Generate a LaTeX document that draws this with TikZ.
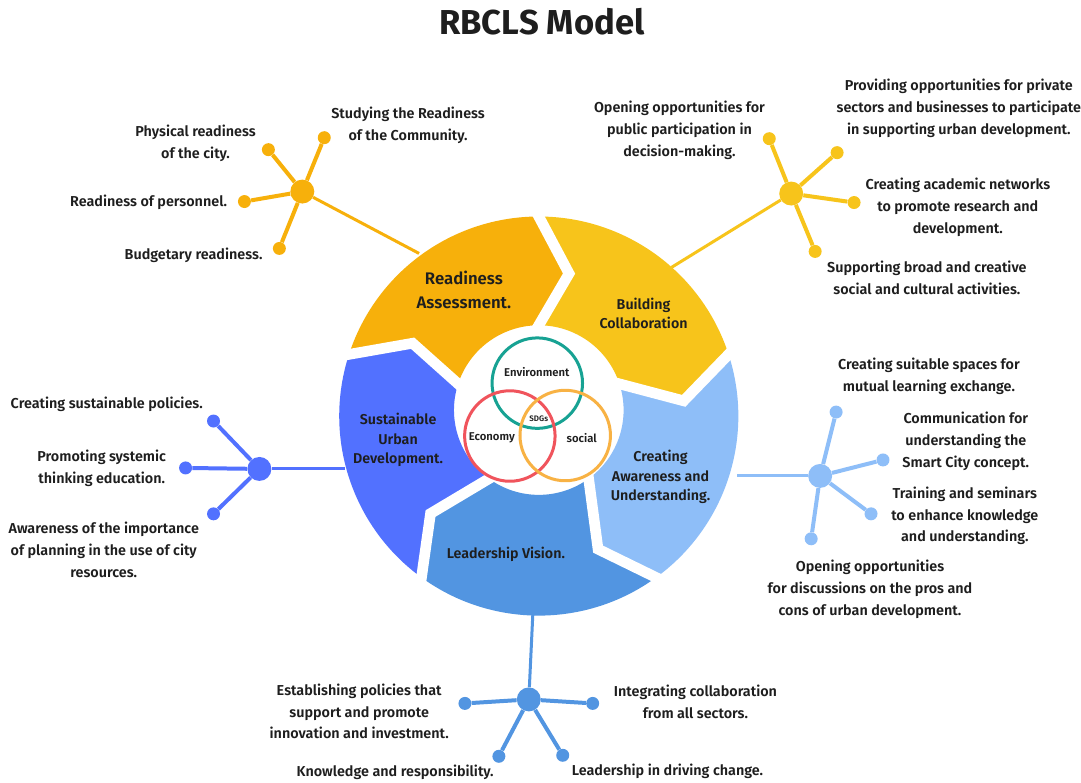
\documentclass[tikz,border=0pt]{standalone}
\usepackage{fontspec}
\setmainfont{Fira Sans}[UprightFont=* SemiBold,BoldFont=* Bold]
\usepackage{tikz}
\usetikzlibrary{calc}

\definecolor{rdyamber}{RGB}{247,176,11}
\definecolor{colyellow}{RGB}{247,196,27}
\definecolor{awrlight}{RGB}{142,190,248}
\definecolor{ldrblue}{RGB}{82,149,225}
\definecolor{susblue}{RGB}{82,113,255}
\definecolor{envteal}{RGB}{23,162,147}
\definecolor{ecored}{RGB}{240,84,92}
\definecolor{socorange}{RGB}{248,178,68}
\definecolor{inkgrey}{RGB}{30,30,30}

\begin{document}
\begin{tikzpicture}[x=0.75pt,y=0.75pt,yscale=-1,xscale=1,
  hub/.style={circle,fill=#1,inner sep=0pt,minimum size=18pt},
  leaf/.style={circle,fill=#1,inner sep=0pt,minimum size=9.75pt},
  spoke/.style={draw=#1,line width=3pt},
  stem/.style={draw=#1,line width=2.25pt},
  segap/.style={draw=white,line width=8pt,line cap=rect,line join=miter},
  lbl/.style={text=inkgrey,align=center,inner sep=0pt,font=\fontsize{10.8}{16.5}\selectfont},
  seglbl/.style={text=inkgrey,align=center,inner sep=0pt,font=\fontsize{10.7}{14.5}\selectfont},
  venn/.style={circle,draw=#1,line width=2.25pt,minimum size=68pt,inner sep=0pt},
  vennlbl/.style={text=inkgrey,inner sep=0pt,font=\fontsize{8.5}{9}\selectfont}
]
\fill[white] (0,0) rectangle (1081,784);

% Title
\node[text=inkgrey,font=\bfseries\fontsize{26}{30}\selectfont] (title) at (543,22) {RBCLS Model};

%Shape: ring of five arrows
\begin{scope}[shift={(540,417)},yscale=-1]
%Readiness Assessment
\fill[rdyamber] (162:200) arc[start angle=162,end angle=90,radius=200] -- (78:146) -- ($(0,6)+(90:85)$) arc[start angle=90,end angle=162,radius=85] -- (150:146) -- cycle;
%Building Collaboration
\fill[colyellow] (90:200) arc[start angle=90,end angle=18,radius=200] -- (6:146) -- ($(0,6)+(18:85)$) arc[start angle=18,end angle=90,radius=85] -- (78:146) -- cycle;
%Creating Awareness
\fill[awrlight] (18:200) arc[start angle=18,end angle=-54,radius=200] -- (-66:146) -- ($(0,6)+(-54:85)$) arc[start angle=-54,end angle=18,radius=85] -- (6:146) -- cycle;
%Leadership Vision
\fill[ldrblue] (306:200) arc[start angle=306,end angle=234,radius=200] -- (222:146) -- ($(0,6)+(234:85)$) arc[start angle=234,end angle=306,radius=85] -- (294:146) -- cycle;
%Sustainable Urban Development
\fill[susblue] (234:200) arc[start angle=234,end angle=162,radius=200] -- (150:146) -- ($(0,6)+(162:85)$) arc[start angle=162,end angle=234,radius=85] -- (222:146) -- cycle;
%white cuts between the arrows
\foreach \c in {162,90,18,-54,-126}
  \draw[segap] (\c:200) -- ({\c-12}:146) -- ($(0,6)+(\c:85)$);
\end{scope}

% Text Node
\node[seglbl,font=\fontsize{12.6}{18}\selectfont] (rdyseg) at (465,291) {Readiness\\Assessment.};
\node[seglbl] (colseg) at (645,314) {Building\\Collaboration};
\node[seglbl] (awrseg) at (662,478) {Creating\\Awareness and\\Understanding.};
\node[seglbl] (ldrseg) at (507,556) {Leadership Vision.};
\node[seglbl] (susseg) at (399,441) {Sustainable\\Urban\\Development.};

%Shape: Venn circles
\node[venn=envteal] (env) at (538.5,384) {};
\node[venn=ecored] (eco) at (511,437) {};
\node[venn=socorange] (soc) at (566.5,436.5) {};
\node[vennlbl] (envlbl) at (538,373) {Environment};
\node[vennlbl,font=\fontsize{6}{7}\selectfont] (sdglbl) at (540,420) {SDGs};
\node[vennlbl] (ecolbl) at (493,439) {Economy};
\node[vennlbl] (soclbl) at (583,439) {social};

%Readiness hub
\coordinate (rdyring) at (420,254);
\node[hub=rdyamber] (rdyhub) at (303,192) {};
\node[leaf=rdyamber] (rdy1) at (325,138) {};
\node[leaf=rdyamber] (rdy2) at (269,150) {};
\node[leaf=rdyamber] (rdy3) at (245,202) {};
\node[leaf=rdyamber] (rdy4) at (280,249) {};
\draw[stem=rdyamber] (rdyhub) -- (rdyring);
\foreach \n in {1,...,4} \draw[spoke=rdyamber] (rdyhub) -- (rdy\n);
\node[lbl] (rdyA) at (409,126) {Studying the Readiness\\of the Community.};
\node[lbl] (rdyB) at (196,144) {Physical readiness\\of the city.};
\node[lbl] (rdyC) at (149,203) {Readiness of personnel.};
\node[lbl] (rdyD) at (194,256) {Budgetary readiness.};

%Building hub
\coordinate (colring) at (673,268);
\node[hub=colyellow] (colhub) at (793,194) {};
\node[leaf=colyellow] (col1) at (771,139) {};
\node[leaf=colyellow] (col2) at (839,153) {};
\node[leaf=colyellow] (col3) at (856,203) {};
\node[leaf=colyellow] (col4) at (817,252) {};
\draw[stem=colyellow] (colhub) -- (colring);
\foreach \n in {1,...,4} \draw[spoke=colyellow] (colhub) -- (col\n);
\node[lbl] (colA) at (681,131) {Opening opportunities for\\public participation in\\decision-making.};
\node[lbl] (colB) at (961,109) {Providing opportunities for private\\sectors and businesses to participate\\in supporting urban development.};
\node[lbl] (colC) at (960,208) {Creating academic networks\\to promote research and\\development.};
\node[lbl] (colD) at (929,278) {Supporting broad and creative\\social and cultural activities.};

%Creating Awareness hub
\coordinate (awrring) at (739,477);
\node[hub=awrlight] (awrhub) at (822,477) {};
\node[leaf=awrlight] (awr1) at (838,413) {};
\node[leaf=awrlight] (awr2) at (885,461) {};
\node[leaf=awrlight] (awr3) at (873,515) {};
\node[leaf=awrlight] (awr4) at (813,540) {};
\draw[stem=awrlight] (awrhub) -- (awrring);
\foreach \n in {1,...,4} \draw[spoke=awrlight] (awrhub) -- (awr\n);
\node[lbl] (awrA) at (931,377) {Creating suitable spaces for\\mutual learning exchange.};
\node[lbl] (awrB) at (968,442) {Communication for\\understanding the\\Smart City concept.};
\node[lbl] (awrC) at (967,517) {Training and seminars\\to enhance knowledge\\and understanding.};
\node[lbl] (awrD) at (872,591) {Opening opportunities\\for discussions on the pros and\\cons of urban development.};

%Leadership hub
\coordinate (ldrring) at (534,616);
\node[hub=ldrblue] (ldrhub) at (530,701) {};
\node[leaf=ldrblue] (ldr1) at (466,705) {};
\node[leaf=ldrblue] (ldr2) at (594,705) {};
\node[leaf=ldrblue] (ldr3) at (500,758) {};
\node[leaf=ldrblue] (ldr4) at (564,757) {};
\draw[stem=ldrblue] (ldrhub) -- (ldrring);
\foreach \n in {1,...,4} \draw[spoke=ldrblue] (ldrhub) -- (ldr\n);
\node[lbl] (ldrA) at (360,713) {Establishing policies that\\support and promote\\innovation and investment.};
\node[lbl] (ldrB) at (697,703) {Integrating collaboration\\from all sectors.};
\node[lbl] (ldrC) at (396,774) {Knowledge and responsibility.};
\node[lbl] (ldrD) at (669,773) {Leadership in driving change.};

%Sustainable hub
\coordinate (susring) at (346,470);
\node[hub=susblue] (sushub) at (260,470) {};
\node[leaf=susblue] (sus1) at (214,422) {};
\node[leaf=susblue] (sus2) at (186,469) {};
\node[leaf=susblue] (sus3) at (214,515) {};
\draw[stem=susblue] (sushub) -- (susring);
\foreach \n in {1,...,3} \draw[spoke=susblue] (sushub) -- (sus\n);
\node[lbl] (susA) at (107,405) {Creating sustainable policies.};
\node[lbl] (susB) at (102,469) {Promoting systemic\\thinking education.};
\node[lbl] (susC) at (104,551) {Awareness of the importance\\of planning in the use of city\\resources.};

\end{tikzpicture}
\end{document}
